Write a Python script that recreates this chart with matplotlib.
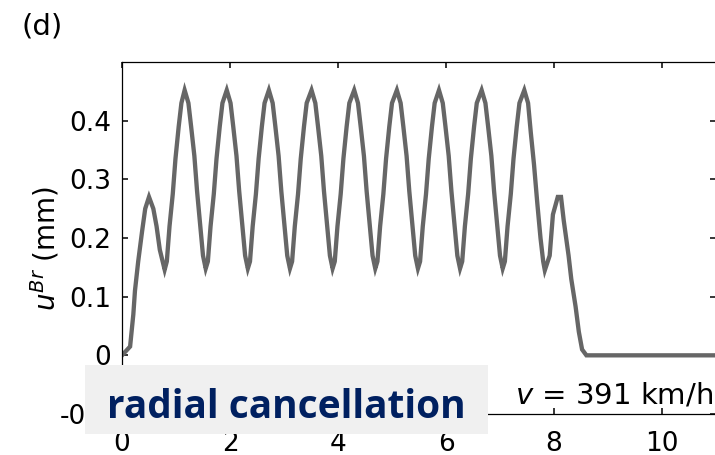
import matplotlib
matplotlib.use("Agg")
import matplotlib.pyplot as plt
from matplotlib.patches import Rectangle

plt.rcParams['font.family'] = ['DejaVu Sans']
plt.rcParams['mathtext.fontset'] = 'dejavusans'

# ---- data ----
dist_m = [0.00, 0.15, 0.21, 0.24, 0.30, 0.37, 0.43, 0.50, 0.58, 0.64, 0.70, 0.79,
          0.83, 0.88, 0.94, 0.99, 1.05, 1.10, 1.16,
          1.23, 1.28, 1.34, 1.39, 1.45, 1.50, 1.55,
          1.59, 1.64, 1.70, 1.75, 1.81, 1.86, 1.94,
          2.01, 2.06, 2.12, 2.17, 2.23, 2.28, 2.33,
          2.37, 2.42, 2.48, 2.53, 2.59, 2.64, 2.72,
          2.79, 2.84, 2.90, 2.95, 3.01, 3.06, 3.11,
          3.15, 3.20, 3.26, 3.31, 3.37, 3.42, 3.51,
          3.58, 3.63, 3.69, 3.74, 3.80, 3.85, 3.90,
          3.94, 3.99, 4.05, 4.10, 4.16, 4.21, 4.30,
          4.37, 4.42, 4.48, 4.53, 4.59, 4.64, 4.69,
          4.73, 4.78, 4.84, 4.89, 4.95, 5.00, 5.09,
          5.16, 5.21, 5.27, 5.32, 5.38, 5.43, 5.48,
          5.52, 5.57, 5.63, 5.68, 5.74, 5.79, 5.87,
          5.94, 5.99, 6.05, 6.10, 6.16, 6.21, 6.26,
          6.30, 6.35, 6.41, 6.46, 6.52, 6.57, 6.66,
          6.73, 6.78, 6.84, 6.89, 6.95, 7.00, 7.05,
          7.09, 7.14, 7.20, 7.25, 7.31, 7.36, 7.45,
          7.52, 7.57, 7.63, 7.69, 7.75, 7.80, 7.83,
          7.92, 7.98, 8.07, 8.13, 8.18, 8.27, 8.32, 8.40, 8.46, 8.52, 8.60, 11.00]
u_br_mm = [0.000, 0.015, 0.070, 0.110, 0.160, 0.210, 0.250, 0.270, 0.250, 0.220, 0.180, 0.146,
           0.160, 0.220, 0.275, 0.335, 0.390, 0.430, 0.452,
           0.430, 0.390, 0.340, 0.280, 0.220, 0.170, 0.148,
           0.160, 0.220, 0.275, 0.335, 0.390, 0.430, 0.452,
           0.430, 0.390, 0.340, 0.280, 0.220, 0.170, 0.148,
           0.160, 0.220, 0.275, 0.335, 0.390, 0.430, 0.452,
           0.430, 0.390, 0.340, 0.280, 0.220, 0.170, 0.148,
           0.160, 0.220, 0.275, 0.335, 0.390, 0.430, 0.452,
           0.430, 0.390, 0.340, 0.280, 0.220, 0.170, 0.148,
           0.160, 0.220, 0.275, 0.335, 0.390, 0.430, 0.452,
           0.430, 0.390, 0.340, 0.280, 0.220, 0.170, 0.148,
           0.160, 0.220, 0.275, 0.335, 0.390, 0.430, 0.452,
           0.430, 0.390, 0.340, 0.280, 0.220, 0.170, 0.148,
           0.160, 0.220, 0.275, 0.335, 0.390, 0.430, 0.452,
           0.430, 0.390, 0.340, 0.280, 0.220, 0.170, 0.148,
           0.160, 0.220, 0.275, 0.335, 0.390, 0.430, 0.452,
           0.430, 0.390, 0.340, 0.280, 0.220, 0.170, 0.148,
           0.160, 0.220, 0.275, 0.335, 0.390, 0.430, 0.452,
           0.430, 0.380, 0.325, 0.260, 0.200, 0.160, 0.145,
           0.170, 0.240, 0.270, 0.270, 0.230, 0.170, 0.130, 0.083, 0.040, 0.010, 0.000, 0.000]

x_ticks = [0, 2, 4, 6, 8, 10]
y_ticks = [-0.1, 0, 0.1, 0.2, 0.3, 0.4]
y_tick_labels = ['-0.1', '0', '0.1', '0.2', '0.3', '0.4']

W, H = 715, 455
fig = plt.figure(figsize=(W / 100, H / 100), dpi=100)
ax = fig.add_axes([122 / W, 1 - 414 / H, (716 - 122) / W, (414 - 62) / H])

ax.plot(dist_m, u_br_mm, color='#666666', lw=3.1, solid_joinstyle='miter')

ax.set_xlim(0, 11)
ax.set_ylim(-0.1, 0.5)
ax.set_xticks(x_ticks)
ax.set_yticks(y_ticks)
ax.set_yticklabels(y_tick_labels)
ax.tick_params(direction='in', length=4.5, width=1.1, top=True, right=True,
               labelsize=19, colors='black')
ax.tick_params(axis='x', pad=12)
ax.tick_params(axis='y', pad=8)
for s in ax.spines.values():
    s.set_linewidth(0.9)

ax.set_ylabel(r'$u^{Br}$ (mm)', fontsize=20)
ax.yaxis.set_label_coords((61 - 122) / 594, (414 - 248) / 352)

fig.text(22 / W, 1 - 27 / H, '(d)', fontsize=21, ha='left', va='center')

ax.text(0.995, (414 - 396) / 352, r'$v$ = 391 km/h', transform=ax.transAxes,
        fontsize=21, ha='right', va='center', color='black')

fig.add_artist(Rectangle((85 / W, 1 - 434 / H), 403 / W, 69 / H,
                         transform=fig.transFigure, facecolor='#f0f0f0',
                         edgecolor='none', zorder=2))
fig.text(107 / W, 1 - 418 / H, 'radial cancellation', fontsize=28,
         family='Open Sans', weight='bold', color='#002060',
         ha='left', va='baseline', zorder=3)

fig.savefig('out.png', dpi=100)
